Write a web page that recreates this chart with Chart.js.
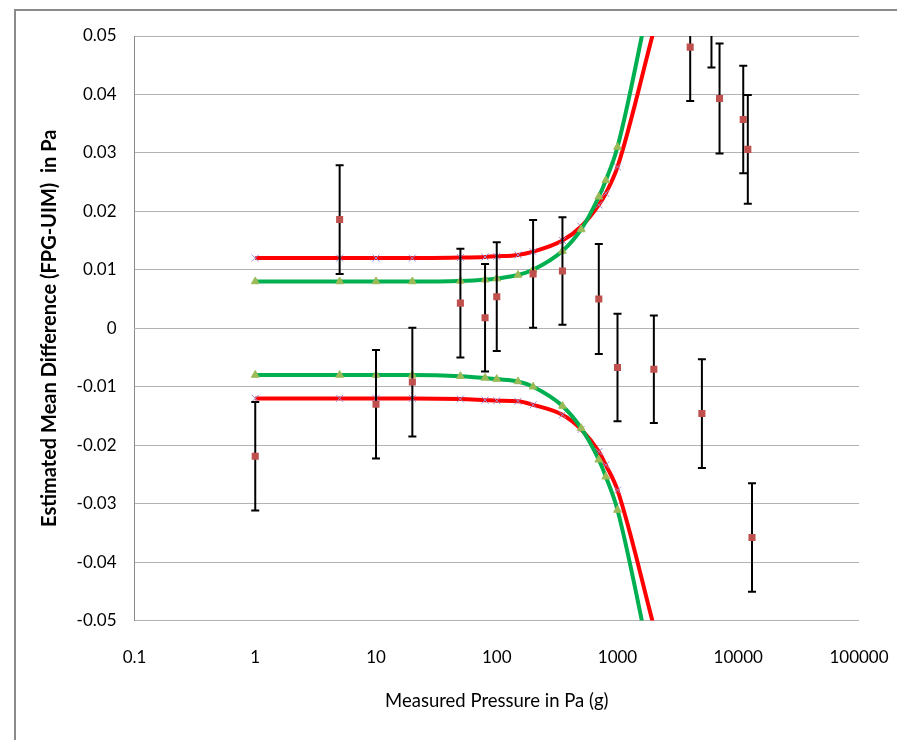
<!doctype html>
<html lang="en">
<head>
<meta charset="UTF-8">
<title>Estimated Mean Difference</title>
<style>
  body { margin: 0; background: #fff; }
  canvas { display: block; }
</style>
</head>
<body>
<canvas id="myChart" width="897" height="740"></canvas>
<script src="https://cdn.jsdelivr.net/npm/chart.js@4.4.1/dist/chart.umd.min.js"></script>
<script>
// measured pressures (Pa) of the data points
var dataP = [1, 5, 10, 20, 50, 80, 100, 200, 350, 700, 1000, 2000, 4000, 5000, 6000, 7000, 11000, 12000, 13000];
var meanDiff = [-0.0219, 0.0186, -0.0130, -0.0092, 0.0043, 0.0018, 0.0054, 0.0093, 0.0098, 0.0050, -0.0067, -0.0070, 0.0481, -0.0146, 0.0539, 0.0393, 0.0357, 0.0306, -0.0358];
var errHalf = [0.0093, 0.0093, 0.0093, 0.0093, 0.0093, 0.0092, 0.0093, 0.0092, 0.0092, 0.0094, 0.0092, 0.0092, 0.0092, 0.0093, 0.0093, 0.0094, 0.0092, 0.0093, 0.0093];

// uncertainty band curves
var curveP = [1, 5, 10, 20, 50, 80, 100, 150, 200, 350, 500, 700, 800, 1000, 2000];
var redUpper = [0.012, 0.012, 0.012, 0.012, 0.0121, 0.0122, 0.0123, 0.01255, 0.0131, 0.0150, 0.0174, 0.0211, 0.0231, 0.0276, 0.051];
var redLower = [-0.012, -0.012, -0.012, -0.012, -0.0121, -0.0123, -0.0124, -0.0125, -0.0131, -0.0148, -0.0173, -0.0211, -0.0234, -0.0277, -0.051];
var greenUpper = [0.008, 0.008, 0.008, 0.008, 0.0081, 0.0083, 0.0085, 0.0091, 0.0100, 0.0132, 0.0169, 0.0225, 0.0253, 0.031, 0.060];
var greenLower = [-0.008, -0.008, -0.008, -0.008, -0.0082, -0.0085, -0.0087, -0.0091, -0.0100, -0.0133, -0.0171, -0.0225, -0.0254, -0.0311, -0.060];

var xTicks = [0.1, 1, 10, 100, 1000, 10000, 100000];

var FONT = "Lato, 'Open Sans', sans-serif";

var toPoints = function (xs, ys) {
    return xs.map(function (x, i) { return {x: x, y: ys[i]}; });
};

var curve = function (ys, color, style, markColor, r) {
    return {
        data: toPoints(curveP, ys),
        borderColor: color,
        borderWidth: 4,
        cubicInterpolationMode: 'monotone',
        pointStyle: style,
        pointRadius: r,
        pointBackgroundColor: markColor,
        pointBorderColor: markColor,
        pointBorderWidth: 1,
        clip: 0
    };
};

var errorBars = {
    id: 'errorBars',
    beforeDatasetDraw: function (chart, args) {
        if (args.index !== 0) return;
        var ctx = chart.ctx, a = chart.chartArea;
        var xs = chart.scales.x, ys = chart.scales.y;
        ctx.save();
        ctx.beginPath();
        ctx.rect(a.left, a.top, a.right - a.left, a.bottom - a.top);
        ctx.clip();
        ctx.strokeStyle = '#000';
        ctx.lineWidth = 2;
        dataP.forEach(function (p, i) {
            var px = xs.getPixelForValue(p);
            var top = ys.getPixelForValue(meanDiff[i] + errHalf[i]);
            var bot = ys.getPixelForValue(meanDiff[i] - errHalf[i]);
            ctx.beginPath();
            ctx.moveTo(px, top); ctx.lineTo(px, bot);
            ctx.moveTo(px - 4, top); ctx.lineTo(px + 4, top);
            ctx.moveTo(px - 4, bot); ctx.lineTo(px + 4, bot);
            ctx.stroke();
        });
        ctx.restore();
    }
};

var frame = {
    id: 'frame',
    beforeDraw: function (chart) {
        var ctx = chart.ctx;
        ctx.save();
        ctx.strokeStyle = '#8a8a8a';
        ctx.lineWidth = 2;
        ctx.beginPath();
        ctx.moveTo(15, 745); ctx.lineTo(15, 10); ctx.lineTo(905, 10);
        ctx.stroke();
        ctx.restore();
    }
};

var ctx = document.getElementById('myChart').getContext('2d');
var myChart = new Chart(ctx, {
    type: 'line',
    data: {
        datasets: [
            {
                data: toPoints(dataP, meanDiff),
                showLine: false,
                pointStyle: 'rect',
                pointRadius: 5,
                pointBackgroundColor: '#C0504D',
                pointBorderColor: '#C0504D',
                pointBorderWidth: 0
            },
            curve(greenUpper, '#00B050', 'triangle', '#9BBB59', 4.5),
            curve(greenLower, '#00B050', 'triangle', '#9BBB59', 4.5),
            curve(redUpper, '#FF0000', 'crossRot', '#9C8AD0', 5),
            curve(redLower, '#FF0000', 'crossRot', '#9C8AD0', 5)
        ]
    },
    options: {
        responsive: false,
        animation: false,
        layout: {padding: {left: 0, right: 38, top: 36, bottom: 0}},
        plugins: {legend: {display: false}, tooltip: {enabled: false}},
        scales: {
            x: {
                type: 'logarithmic',
                min: 0.1,
                max: 100000,
                afterBuildTicks: function (axis) {
                    axis.ticks = xTicks.map(function (v) { return {value: v}; });
                },
                afterFit: function (axis) {
                    axis.height = 119.5;
                    axis.paddingLeft = 0;
                    axis.paddingRight = 0;
                },
                grid: {display: false, drawTicks: false},
                border: {display: false},
                ticks: {
                    padding: 27,
                    color: '#000',
                    font: {family: FONT, size: 17},
                    maxRotation: 0,
                    autoSkip: false,
                    callback: function (v) { return String(v); }
                },
                title: {
                    display: true,
                    text: 'Measured Pressure in Pa (g)',
                    color: '#000',
                    font: {family: FONT, size: 18.5},
                    padding: {top: 0, bottom: 28}
                }
            },
            y: {
                min: -0.05,
                max: 0.05,
                afterFit: function (axis) {
                    axis.width = 134.5;
                    axis.paddingTop = 0;
                    axis.paddingBottom = 0;
                },
                grid: {color: '#b3b3b3', lineWidth: 1, drawTicks: false},
                border: {display: true, color: '#8a8a8a', width: 1},
                ticks: {
                    stepSize: 0.01,
                    padding: 18,
                    color: '#000',
                    font: {family: FONT, size: 17},
                    callback: function (v) { return Math.abs(v) < 1e-9 ? '0' : v.toFixed(2); }
                },
                title: {
                    display: true,
                    text: 'Estimated Mean Difference (FPG-UIM)  in Pa',
                    color: '#000',
                    font: {family: FONT, size: 20, weight: 'bold'},
                    padding: {top: 38, bottom: 0}
                }
            }
        }
    },
    plugins: [errorBars, frame]
});
</script>
</body>
</html>
